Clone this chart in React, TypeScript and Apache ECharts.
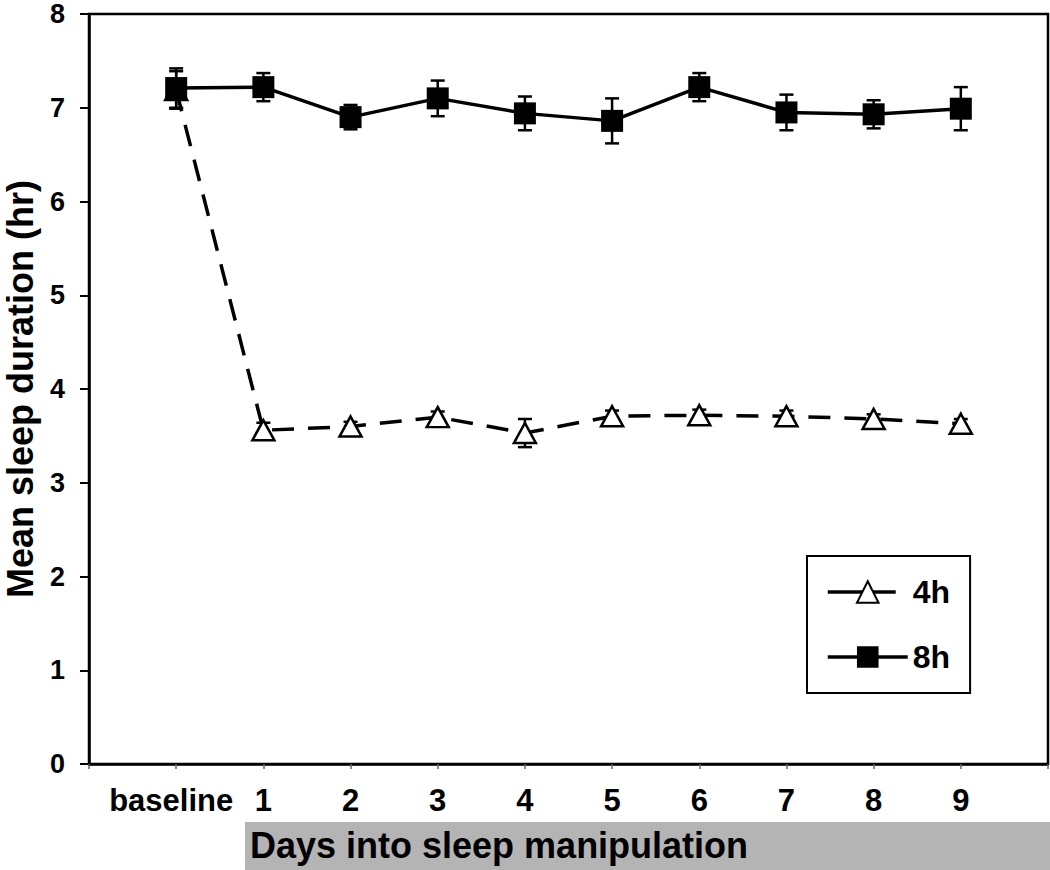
import React, { useEffect, useRef } from "react";
import * as echarts from "echarts";

const dayValues = [0, 1, 2, 3, 4, 5, 6, 7, 8, 9];
const sleep8h = [7.21, 7.22, 6.9, 7.1, 6.94, 6.86, 7.22, 6.95, 6.93, 6.99];
const err8h = [0.21, 0.15, 0.13, 0.19, 0.18, 0.24, 0.15, 0.19, 0.15, 0.23];
const sleep4h = [7.19, 3.56, 3.6, 3.7, 3.53, 3.71, 3.72, 3.71, 3.68, 3.63];
const err4h = [0.2, 0.08, 0.05, 0.06, 0.15, 0.06, 0.06, 0.06, 0.05, 0.05];
const yTicks = [0, 1, 2, 3, 4, 5, 6, 7, 8];
const xLabelFirst = "baseline";
const yTitle = "Mean sleep duration (hr)";
const xTitle = "Days into sleep manipulation";

const FONT = "'Liberation Sans', Arial, Helvetica, sans-serif";

export default function App() {
  const ref = useRef<HTMLDivElement>(null);
  useEffect(() => {
    document.body.style.margin = "0";
    if (!ref.current) return;
    const chart = echarts.init(ref.current, undefined, { renderer: "svg" });

    const errRender = (params: any, api: any) => {
      const x = api.value(0);
      const y = api.value(1);
      const e = api.value(2);
      const top = api.coord([x, y + e]);
      const bot = api.coord([x, y - e]);
      const hw = 7;
      const style = { stroke: "#000", lineWidth: 2.5 };
      return {
        type: "group",
        children: [
          { type: "line", shape: { x1: top[0], y1: top[1], x2: bot[0], y2: bot[1] }, style },
          { type: "line", shape: { x1: top[0] - hw, y1: top[1], x2: top[0] + hw, y2: top[1] }, style },
          { type: "line", shape: { x1: bot[0] - hw, y1: bot[1], x2: bot[0] + hw, y2: bot[1] }, style },
        ],
      };
    };

    const option: any = {
      animation: false,
      backgroundColor: "#fff",
      textStyle: { fontFamily: FONT },
      grid: {
        left: 89,
        top: 14,
        right: 2,
        bottom: 106,
        containLabel: false,
        outerBoundsMode: "none",
        show: true,
        borderColor: "#000",
        borderWidth: 2.5,
        backgroundColor: "transparent",
      },
      xAxis: {
        type: "value",
        min: -1,
        max: 10,
        interval: 1,
        splitLine: { show: false },
        axisLine: { show: true, onZero: false, lineStyle: { color: "#000", width: 2.5 } },
        axisTick: { show: true, inside: false, length: 5, lineStyle: { color: "#666", width: 1.5 } },
        axisLabel: {
          show: true,
          margin: 21,
          color: "#000",
          fontSize: 31,
          fontWeight: "bold",
          fontFamily: FONT,
          showMinLabel: true,
          showMaxLabel: true,
          formatter: (v: number) => {
            if (v === dayValues[0]) return "{b|" + xLabelFirst + "}";
            if (v >= 1 && v <= 9) return String(v);
            return "";
          },
          rich: {
            b: { fontSize: 31, fontWeight: "bold", fontFamily: FONT, color: "#000", padding: [0, 10, 0, 0] },
          },
        },
      },
      yAxis: {
        type: "value",
        min: yTicks[0],
        max: yTicks[yTicks.length - 1],
        interval: 1,
        splitLine: { show: false },
        axisLine: { show: true, onZero: false, lineStyle: { color: "#000", width: 2.5 } },
        axisTick: { show: true, inside: false, length: 9, lineStyle: { color: "#000", width: 2 } },
        axisLabel: {
          margin: 24,
          color: "#000",
          fontSize: 27,
          lineHeight: 26,
          fontWeight: "bold",
          fontFamily: FONT,
        },
        name: yTitle,
        nameLocation: "middle",
        nameRotate: 90,
        nameGap: 53,
        nameTextStyle: { color: "#000", fontSize: 36, lineHeight: 31, fontWeight: "bold", fontFamily: FONT },
      },
      legend: {
        orient: "vertical",
        left: 807,
        top: 556,
        padding: [20, 20, 20, 19],
        itemWidth: 80,
        itemHeight: 27,
        itemGap: 33,
        borderColor: "#000",
        borderWidth: 2,
        backgroundColor: "#fff",
        textStyle: { color: "#000", fontSize: 32, fontWeight: "bold", fontFamily: FONT },
        data: [
          { name: "4h", lineStyle: { type: [68, 30], width: 3.5, color: "#000" } },
          { name: "8h", lineStyle: { type: "solid", width: 3.5, color: "#000" } },
        ],
      },
      graphic: [
        {
          type: "rect",
          left: 245,
          top: 822,
          shape: { width: 805, height: 48 },
          style: { fill: "#b4b4b4" },
          z: 0,
        },
        {
          type: "text",
          left: 250,
          top: 827,
          style: { text: xTitle, fontSize: 36, fontWeight: "bold", fontFamily: FONT, fill: "#000" },
          z: 1,
        },
      ],
      series: [
        {
          name: "err4h",
          type: "custom",
          renderItem: errRender,
          data: dayValues.map((d, i) => [d, sleep4h[i], err4h[i]]),
          z: 1,
          silent: true,
        },
        {
          name: "err8h",
          type: "custom",
          renderItem: errRender,
          data: dayValues.map((d, i) => [d, sleep8h[i], err8h[i]]),
          z: 1,
          silent: true,
        },
        {
          name: "4h",
          type: "line",
          data: dayValues.map((d, i) => [d, sleep4h[i]]),
          symbol: "triangle",
          symbolSize: [22, 20],
          showAllSymbol: true,
          lineStyle: { color: "#000", width: 3.5, type: [22, 14] },
          itemStyle: { color: "#fff", borderColor: "#000", borderWidth: 2.5 },
          z: 2,
        },
        {
          name: "8h",
          type: "line",
          data: dayValues.map((d, i) => [d, sleep8h[i]]),
          symbol: "rect",
          symbolSize: 22,
          showAllSymbol: true,
          lineStyle: { color: "#000", width: 3.5, type: "solid" },
          itemStyle: { color: "#000", borderColor: "#000", borderWidth: 0 },
          z: 3,
        },
      ],
    };
    chart.setOption(option);
    return () => chart.dispose();
  }, []);
  return <div ref={ref} style={{ width: 1050, height: 870 }} />;
}
